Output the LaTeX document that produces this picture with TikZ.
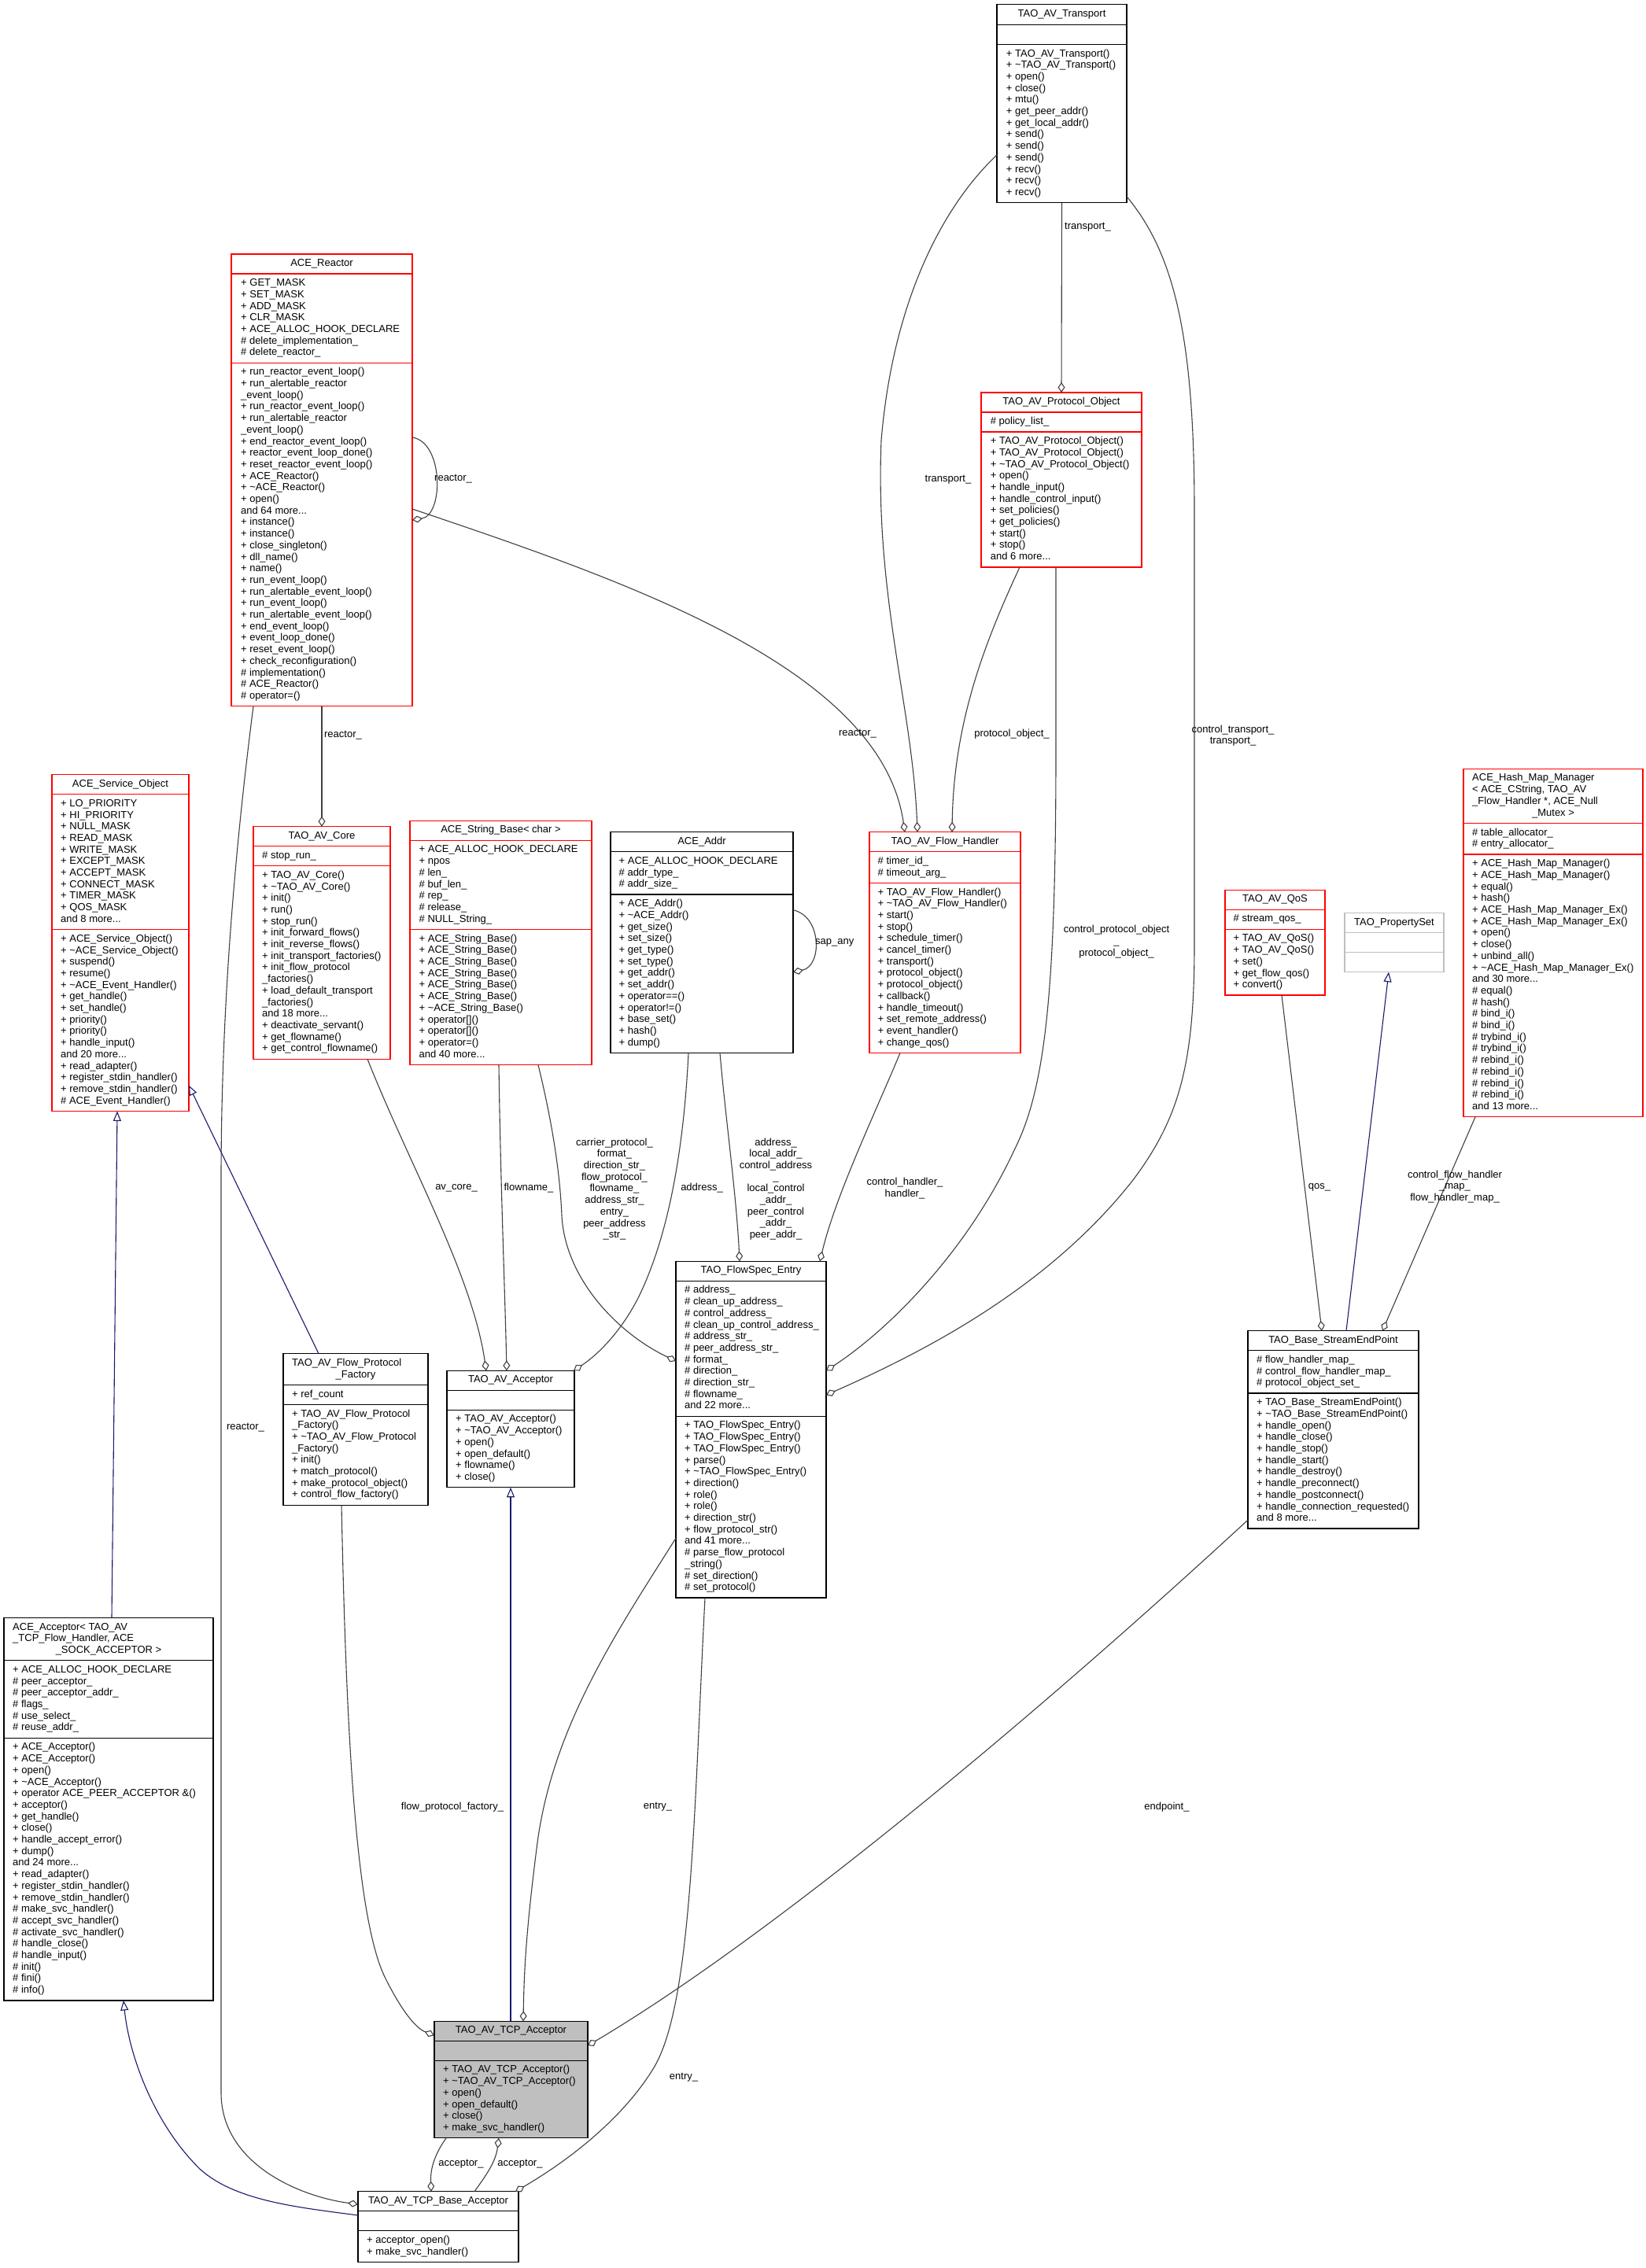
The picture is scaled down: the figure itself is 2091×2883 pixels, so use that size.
\documentclass[tikz,border=0pt]{standalone}
\usepackage{fontspec}
\setmainfont{Liberation Sans}
\usetikzlibrary{arrows.meta,calc}
\definecolor{edgegray}{HTML}{404040}
\definecolor{inhblue}{HTML}{191970}
\definecolor{boxred}{HTML}{FF0000}
\definecolor{boxgray}{HTML}{BFBFBF}
\newcommand\tld{\textasciitilde}
\newcommand\umlbox[9]{%
  \node[boxnode, draw=#8, fill=#9, minimum width=#4pt, minimum height=#5pt] (#1) at (#2,#3) {};
  \draw[boxsep, draw=#8] (#2,#6) -- (#2+#4,#6);
  \draw[boxsep, draw=#8] (#2,#7) -- (#2+#4,#7);
}
\newcommand\ttl[4]{\node[titletext] (#1) at (#2,#3) {\strut #4};}
\newcommand\mem[4]{\node[memtext] (#1) at (#2,#3) {\strut #4};}
\tikzset{
  boxnode/.style={rectangle, anchor=north west, inner sep=0pt, outer sep=0pt, line width=1.3pt},
  boxsep/.style={line width=1.3pt},
  titletext/.style={anchor=north, inner sep=0pt, align=center, font=\fontsize{13}{14.7}\selectfont},
  memtext/.style={anchor=north west, inner sep=0pt, align=left, font=\fontsize{13}{14.7}\selectfont},
  lbl/.style={inner sep=0pt, align=center, font=\fontsize{13}{14.7}\selectfont},
  usageedge/.style={draw=edgegray, line width=1.1pt, -{Diamond[open, length=13pt, width=9pt]}},
  inheritedge/.style={draw=inhblue, line width=1.1pt, -{Triangle[open, length=12.5pt, width=10pt]}},
}
\begin{document}
\begin{tikzpicture}[x=1pt, y=-1pt]
\fill[white] (0,0) rectangle (2091,2883);
\useasboundingbox (0,0) rectangle (2091,2883);

% ---------- boxes ----------
\umlbox{transport}{1267}{5.5}{165}{252.3}{31.2}{56.4}{black}{white}
\ttl{transport-t}{1349.5}{11}{TAO\_AV\_Transport}
\mem{transport-m}{1278.7}{61.55}{+ TAO\_AV\_Transport()\\+ \tld TAO\_AV\_Transport()\\+ open()\\+ close()\\+ mtu()\\+ get\_peer\_addr()\\+ get\_local\_addr()\\+ send()\\+ send()\\+ send()\\+ recv()\\+ recv()\\+ recv()}

\umlbox{protoobj}{1247}{499}{204}{222}{524}{549}{boxred}{white}
\ttl{protoobj-t}{1349}{504.15}{TAO\_AV\_Protocol\_Object}
\mem{protoobj-a}{1258.7}{529.15}{\# policy\_list\_}
\mem{protoobj-m}{1258.7}{554.15}{+ TAO\_AV\_Protocol\_Object()\\+ TAO\_AV\_Protocol\_Object()\\+ \tld TAO\_AV\_Protocol\_Object()\\+ open()\\+ handle\_input()\\+ handle\_control\_input()\\+ set\_policies()\\+ get\_policies()\\+ start()\\+ stop()\\and 6 more...}

\umlbox{reactor}{294}{323}{230}{574.8}{348}{461.2}{boxred}{white}
\ttl{reactor-t}{409}{328.15}{ACE\_Reactor}
\mem{reactor-a}{306}{353.15}{+ GET\_MASK\\+ SET\_MASK\\+ ADD\_MASK\\+ CLR\_MASK\\+ ACE\_ALLOC\_HOOK\_DECLARE\\\# delete\_implementation\_\\\# delete\_reactor\_}
\mem{reactor-m}{306}{466.35}{+ run\_reactor\_event\_loop()\\+ run\_alertable\_reactor\\\_event\_loop()\\+ run\_reactor\_event\_loop()\\+ run\_alertable\_reactor\\\_event\_loop()\\+ end\_reactor\_event\_loop()\\+ reactor\_event\_loop\_done()\\+ reset\_reactor\_event\_loop()\\+ ACE\_Reactor()\\+ \tld ACE\_Reactor()\\+ open()\\and 64 more...\\+ instance()\\+ instance()\\+ close\_singleton()\\+ dll\_name()\\+ name()\\+ run\_event\_loop()\\+ run\_alertable\_event\_loop()\\+ run\_event\_loop()\\+ run\_alertable\_event\_loop()\\+ end\_event\_loop()\\+ event\_loop\_done()\\+ reset\_event\_loop()\\+ check\_reconfiguration()\\\# implementation()\\\# ACE\_Reactor()\\\# operator=()}

\umlbox{serviceobj}{66}{984.7}{174}{427.8}{1009.7}{1181.7}{boxred}{white}
\ttl{serviceobj-t}{153}{989.85}{ACE\_Service\_Object}
\mem{serviceobj-a}{77}{1014.85}{+ LO\_PRIORITY\\+ HI\_PRIORITY\\+ NULL\_MASK\\+ READ\_MASK\\+ WRITE\_MASK\\+ EXCEPT\_MASK\\+ ACCEPT\_MASK\\+ CONNECT\_MASK\\+ TIMER\_MASK\\+ QOS\_MASK\\and 8 more...}
\mem{serviceobj-m}{77}{1186.85}{+ ACE\_Service\_Object()\\+ \tld ACE\_Service\_Object()\\+ suspend()\\+ resume()\\+ \tld ACE\_Event\_Handler()\\+ get\_handle()\\+ set\_handle()\\+ priority()\\+ priority()\\+ handle\_input()\\and 20 more...\\+ read\_adapter()\\+ register\_stdin\_handler()\\+ remove\_stdin\_handler()\\\# ACE\_Event\_Handler()}

\umlbox{core}{322}{1050.7}{174}{295.5}{1075.7}{1100.7}{boxred}{white}
\ttl{core-t}{409}{1055.85}{TAO\_AV\_Core}
\mem{core-a}{333}{1080.85}{\# stop\_run\_}
\mem{core-m}{333}{1105.85}{+ TAO\_AV\_Core()\\+ \tld TAO\_AV\_Core()\\+ init()\\+ run()\\+ stop\_run()\\+ init\_forward\_flows()\\+ init\_reverse\_flows()\\+ init\_transport\_factories()\\+ init\_flow\_protocol\\\_factories()\\+ load\_default\_transport\\\_factories()\\and 18 more...\\+ deactivate\_servant()\\+ get\_flowname()\\+ get\_control\_flowname()}

\umlbox{stringbase}{521}{1043.3}{231}{310.2}{1068.3}{1181.5}{boxred}{white}
\ttl{stringbase-t}{636.5}{1048.45}{ACE\_String\_Base< char >}
\mem{stringbase-a}{532.5}{1073.45}{+ ACE\_ALLOC\_HOOK\_DECLARE\\+ npos\\\# len\_\\\# buf\_len\_\\\# rep\_\\\# release\_\\\# NULL\_String\_}
\mem{stringbase-m}{532.5}{1186.65}{+ ACE\_String\_Base()\\+ ACE\_String\_Base()\\+ ACE\_String\_Base()\\+ ACE\_String\_Base()\\+ ACE\_String\_Base()\\+ ACE\_String\_Base()\\+ \tld ACE\_String\_Base()\\+ operator[]()\\+ operator[]()\\+ operator=()\\and 40 more...}

\umlbox{addr}{776}{1057.7}{232}{280.8}{1082.7}{1137.1}{black}{white}
\ttl{addr-t}{892}{1062.85}{ACE\_Addr}
\mem{addr-a}{786.5}{1087.85}{+ ACE\_ALLOC\_HOOK\_DECLARE\\\# addr\_type\_\\\# addr\_size\_}
\mem{addr-m}{786.5}{1142.25}{+ ACE\_Addr()\\+ \tld ACE\_Addr()\\+ get\_size()\\+ set\_size()\\+ get\_type()\\+ set\_type()\\+ get\_addr()\\+ set\_addr()\\+ operator==()\\+ operator!=()\\+ base\_set()\\+ hash()\\+ dump()}

\umlbox{flowhandler}{1105}{1057.7}{192}{280.8}{1082.7}{1122.4}{boxred}{white}
\ttl{flowhandler-t}{1201}{1062.85}{TAO\_AV\_Flow\_Handler}
\mem{flowhandler-a}{1115.5}{1087.85}{\# timer\_id\_\\\# timeout\_arg\_}
\mem{flowhandler-m}{1115.5}{1127.55}{+ TAO\_AV\_Flow\_Handler()\\+ \tld TAO\_AV\_Flow\_Handler()\\+ start()\\+ stop()\\+ schedule\_timer()\\+ cancel\_timer()\\+ transport()\\+ protocol\_object()\\+ protocol\_object()\\+ callback()\\+ handle\_timeout()\\+ set\_remote\_address()\\+ event\_handler()\\+ change\_qos()}

\umlbox{hashmap}{1860}{977.3}{228}{442.5}{1046.4}{1086.1}{boxred}{white}
\mem{hashmap-t1}{1871}{982.45}{ACE\_Hash\_Map\_Manager\\< ACE\_CString, TAO\_AV\\\_Flow\_Handler *, ACE\_Null}
\ttl{hashmap-t2}{1974}{1026.55}{\_Mutex >}
\mem{hashmap-a}{1871}{1051.55}{\# table\_allocator\_\\\# entry\_allocator\_}
\mem{hashmap-m}{1871}{1091.25}{+ ACE\_Hash\_Map\_Manager()\\+ ACE\_Hash\_Map\_Manager()\\+ equal()\\+ hash()\\+ ACE\_Hash\_Map\_Manager\_Ex()\\+ ACE\_Hash\_Map\_Manager\_Ex()\\+ open()\\+ close()\\+ unbind\_all()\\+ \tld ACE\_Hash\_Map\_Manager\_Ex()\\and 30 more...\\\# equal()\\\# hash()\\\# bind\_i()\\\# bind\_i()\\\# trybind\_i()\\\# trybind\_i()\\\# rebind\_i()\\\# rebind\_i()\\\# rebind\_i()\\\# rebind\_i()\\and 13 more...}

\umlbox{qos}{1557}{1131.3}{127}{133.8}{1156.3}{1181.3}{boxred}{white}
\ttl{qos-t}{1620.5}{1136.45}{TAO\_AV\_QoS}
\mem{qos-a}{1567.5}{1161.45}{\# stream\_qos\_}
\mem{qos-m}{1567.5}{1186.45}{+ TAO\_AV\_QoS()\\+ TAO\_AV\_QoS()\\+ set()\\+ get\_flow\_qos()\\+ convert()}

\umlbox{propset}{1709}{1160.7}{126}{75}{1185.7}{1210.7}{boxgray}{white}
\ttl{propset-t}{1772}{1165.85}{TAO\_PropertySet}

\umlbox{flowspec}{859}{1603.3}{191}{427.8}{1628.3}{1800.3}{black}{white}
\ttl{flowspec-t}{954.5}{1608.45}{TAO\_FlowSpec\_Entry}
\mem{flowspec-a}{870}{1633.45}{\# address\_\\\# clean\_up\_address\_\\\# control\_address\_\\\# clean\_up\_control\_address\_\\\# address\_str\_\\\# peer\_address\_str\_\\\# format\_\\\# direction\_\\\# direction\_str\_\\\# flowname\_\\and 22 more...}
\mem{flowspec-m}{870}{1805.45}{+ TAO\_FlowSpec\_Entry()\\+ TAO\_FlowSpec\_Entry()\\+ TAO\_FlowSpec\_Entry()\\+ parse()\\+ \tld TAO\_FlowSpec\_Entry()\\+ direction()\\+ role()\\+ role()\\+ direction\_str()\\+ flow\_protocol\_str()\\and 41 more...\\\# parse\_flow\_protocol\\\_string()\\\# set\_direction()\\\# set\_protocol()}

\umlbox{sep}{1586}{1691.7}{217}{251.4}{1716.7}{1771.1}{black}{white}
\ttl{sep-t}{1694.5}{1696.85}{TAO\_Base\_StreamEndPoint}
\mem{sep-a}{1597}{1721.85}{\# flow\_handler\_map\_\\\# control\_flow\_handler\_map\_\\\# protocol\_object\_set\_}
\mem{sep-m}{1597}{1776.25}{+ TAO\_Base\_StreamEndPoint()\\+ \tld TAO\_Base\_StreamEndPoint()\\+ handle\_open()\\+ handle\_close()\\+ handle\_stop()\\+ handle\_start()\\+ handle\_destroy()\\+ handle\_preconnect()\\+ handle\_postconnect()\\+ handle\_connection\_requested()\\and 8 more...}

\umlbox{factory}{360}{1720.7}{184}{192.6}{1760.4}{1785.4}{black}{white}
\mem{factory-t1}{371}{1725.85}{TAO\_AV\_Flow\_Protocol}
\ttl{factory-t2}{452}{1740.55}{\_Factory}
\mem{factory-a}{371}{1765.55}{+ ref\_count}
\mem{factory-m}{371}{1790.55}{+ TAO\_AV\_Flow\_Protocol\\\_Factory()\\+ \tld TAO\_AV\_Flow\_Protocol\\\_Factory()\\+ init()\\+ match\_protocol()\\+ make\_protocol\_object()\\+ control\_flow\_factory()}

\umlbox{avacceptor}{568}{1742.3}{162}{148.5}{1767.3}{1792.3}{black}{white}
\ttl{avacceptor-t}{649}{1747.45}{TAO\_AV\_Acceptor}
\mem{avacceptor-m}{579}{1797.45}{+ TAO\_AV\_Acceptor()\\+ \tld TAO\_AV\_Acceptor()\\+ open()\\+ open\_default()\\+ flowname()\\+ close()}

\umlbox{aceacceptor}{5}{2056.4}{266}{486.6}{2110.8}{2209.3}{black}{white}
\mem{aceacceptor-t1}{16}{2061.55}{ACE\_Acceptor< TAO\_AV\\\_TCP\_Flow\_Handler, ACE}
\ttl{aceacceptor-t2}{138}{2090.95}{\_SOCK\_ACCEPTOR >}
\mem{aceacceptor-a}{16}{2115.95}{+ ACE\_ALLOC\_HOOK\_DECLARE\\\# peer\_acceptor\_\\\# peer\_acceptor\_addr\_\\\# flags\_\\\# use\_select\_\\\# reuse\_addr\_}
\mem{aceacceptor-m}{16}{2214.45}{+ ACE\_Acceptor()\\+ ACE\_Acceptor()\\+ open()\\+ \tld ACE\_Acceptor()\\+ operator ACE\_PEER\_ACCEPTOR \&()\\+ acceptor()\\+ get\_handle()\\+ close()\\+ handle\_accept\_error()\\+ dump()\\and 24 more...\\+ read\_adapter()\\+ register\_stdin\_handler()\\+ remove\_stdin\_handler()\\\# make\_svc\_handler()\\\# accept\_svc\_handler()\\\# activate\_svc\_handler()\\\# handle\_close()\\\# handle\_input()\\\# init()\\\# fini()\\\# info()}

\umlbox{tcpacceptor}{552}{2569.3}{195}{148.5}{2594.3}{2619.3}{black}{boxgray}
\ttl{tcpacceptor-t}{649.5}{2574.45}{TAO\_AV\_TCP\_Acceptor}
\mem{tcpacceptor-m}{563}{2624.45}{+ TAO\_AV\_TCP\_Acceptor()\\+ \tld TAO\_AV\_TCP\_Acceptor()\\+ open()\\+ open\_default()\\+ close()\\+ make\_svc\_handler()}

\umlbox{baseacceptor}{455}{2785.7}{204}{89.7}{2810.7}{2835.7}{black}{white}
\ttl{baseacceptor-t}{557}{2790.85}{TAO\_AV\_TCP\_Base\_Acceptor}
\mem{baseacceptor-m}{466}{2840.85}{+ acceptor\_open()\\+ make\_svc\_handler()}

% ---------- connectors ----------
\draw[usageedge] (transport.south) -- (protoobj.north);
\draw[usageedge] ($(transport.north west)+(0,191.5)$) .. controls (1200,260) and (1135,380) .. (1120,560) .. controls (1112,760) and (1160,900) .. ($(flowhandler.north west)+(61,0)$);
\draw[usageedge] ($(transport.south east)+(0,-8)$) .. controls (1490,320) and (1518,420) .. (1518,650) -- (1518,1200) .. controls (1518,1350) and (1500,1420) .. (1440,1500) .. controls (1330,1640) and (1170,1720) .. ($(flowspec.north east)+(0,170)$);
\draw[usageedge] ($(protoobj.south west)+(49,0)$) .. controls (1250,820) and (1212,920) .. ($(flowhandler.north west)+(105,0)$);
\draw[usageedge] ($(protoobj.south west)+(95,0)$) -- (1342,950) .. controls (1342,1250) and (1330,1380) .. (1290,1460) .. controls (1230,1590) and (1130,1690) .. ($(flowspec.north east)+(0,139)$);
\draw[usageedge] ($(reactor.north east)+(0,233)$) .. controls (564,562) and (564,655) .. ($(reactor.north east)+(0,338)$);
\draw[usageedge] ($(reactor.north east)+(0,324)$) .. controls (800,740) and (1120,850) .. ($(flowhandler.north west)+(45,0)$);
\draw[usageedge] (reactor.south) -- (core.north);
\draw[usageedge] ($(reactor.south west)+(28,0)$) .. controls (296,1100) and (281,1300) .. (281,1500) -- (281,2660) .. controls (281,2750) and (380,2792) .. ($(baseacceptor.north west)+(0,16.3)$);
\draw[usageedge] ($(core.south west)+(145,0)$) .. controls (520,1480) and (600,1620) .. ($(avacceptor.north west)+(50,0)$);
\draw[usageedge] ($(stringbase.south west)+(113,0)$) .. controls (636,1500) and (642,1650) .. ($(avacceptor.north west)+(76,0)$);
\draw[usageedge] ($(stringbase.south west)+(163,0)$) .. controls (705,1440) and (712,1500) .. (714,1545) .. controls (718,1625) and (785,1695) .. ($(flowspec.north west)+(0,126.7)$);
\draw[usageedge] ($(addr.south west)+(99,0)$) .. controls (868,1480) and (845,1580) .. (812,1648) .. controls (790,1692) and (760,1722) .. ($(avacceptor.north east)+(-1,0)$);
\draw[usageedge] ($(addr.north east)+(0,99)$) .. controls (1045,1165) and (1045,1228) .. ($(addr.north east)+(0,178)$);
\draw[usageedge] ($(addr.south west)+(139,0)$) .. controls (922,1420) and (936,1520) .. ($(flowspec.north west)+(81,0)$);
\draw[usageedge] ($(flowhandler.south west)+(39,0)$) .. controls (1110,1420) and (1062,1520) .. ($(flowspec.north west)+(183,0)$);
\draw[usageedge] ($(qos.south west)+(72,0)$) -- ($(sep.north west)+(94,0)$);
\draw[inheritedge] ($(sep.north west)+(125,0)$) -- ($(propset.south west)+(56,0)$);
\draw[usageedge] ($(hashmap.south west)+(15,0)$) -- ($(sep.north west)+(171,0)$);
\draw[usageedge] ($(flowspec.north west)+(0,352)$) .. controls (780,2080) and (700,2200) .. (682,2350) .. controls (668,2460) and (666,2510) .. ($(tcpacceptor.north west)+(113,0)$);
\draw[usageedge] ($(flowspec.south west)+(37,0)$) .. controls (882,2300) and (880,2550) .. (830,2630) .. controls (790,2695) and (720,2748) .. ($(baseacceptor.north west)+(200,0)$);
\draw[usageedge] ($(factory.south west)+(74,0)$) .. controls (440,2200) and (452,2440) .. (490,2515) .. controls (510,2555) and (528,2578) .. ($(tcpacceptor.north west)+(0,18)$);
\draw[inheritedge] ($(tcpacceptor.north west)+(97,0)$) -- ($(avacceptor.south west)+(81,0)$);
\draw[usageedge] ($(sep.south west)+(0,-11)$) .. controls (1350,2150) and (1000,2450) .. ($(tcpacceptor.north east)+(0,31)$);
\draw[usageedge] ($(tcpacceptor.south west)+(15,0)$) .. controls (550,2742) and (547,2760) .. ($(baseacceptor.north west)+(93,0)$);
\draw[usageedge] ($(baseacceptor.north west)+(148,0)$) .. controls (618,2765) and (630,2748) .. ($(tcpacceptor.south west)+(82,0)$);
\draw[inheritedge] ($(aceacceptor.north west)+(137,0)$) -- ($(serviceobj.south west)+(83,0)$);
\draw[inheritedge] ($(factory.north west)+(45,0)$) -- ($(serviceobj.north east)+(0,395)$);
\draw[inheritedge] ($(baseacceptor.north west)+(0,30.3)$) .. controls (380,2806) and (300,2798) .. (255,2758) .. controls (200,2705) and (165,2620) .. ($(aceacceptor.south west)+(152,0)$);

% ---------- connector labels ----------
\node[lbl, anchor=west] (l-tr1) at (1353,289) {transport\_};
\node[lbl] (l-tr2) at (1205,610) {transport\_};
\node[lbl] (l-ctr) at (1567,935) {control\_transport\_\\transport\_};
\node[lbl, anchor=west] (l-rself) at (552,609) {reactor\_};
\node[lbl] (l-rfh) at (1090,933) {reactor\_};
\node[lbl] (l-po) at (1286,933) {protocol\_object\_};
\node[lbl] (l-rcore) at (436,935) {reactor\_};
\node[lbl] (l-cpo) at (1419,1197) {control\_protocol\_object\\\_\\protocol\_object\_};
\node[lbl, anchor=west] (l-sap) at (1036,1198) {sap\_any};
\node[lbl] (l-avcore) at (580,1510) {av\_core\_};
\node[lbl] (l-flowname) at (672,1510) {flowname\_};
\node[lbl] (l-carrier) at (781,1511.5) {carrier\_protocol\_\\format\_\\direction\_str\_\\flow\_protocol\_\\flowname\_\\address\_str\_\\entry\_\\peer\_address\\\_str\_};
\node[lbl] (l-address) at (892,1510) {address\_};
\node[lbl] (l-addrfs) at (986,1511.5) {address\_\\local\_addr\_\\control\_address\\\_\\local\_control\\\_addr\_\\peer\_control\\\_addr\_\\peer\_addr\_};
\node[lbl] (l-ctrlh) at (1150,1510.8) {control\_handler\_\\handler\_};
\node[lbl] (l-qos) at (1677,1509) {qos\_};
\node[lbl] (l-cfhm) at (1849,1508.6) {control\_flow\_handler\\\_map\_\\flow\_handler\_map\_};
\node[lbl] (l-rbase) at (312,1815) {reactor\_};
\node[lbl] (l-fpf) at (575,2297) {flow\_protocol\_factory\_};
\node[lbl] (l-entry1) at (836,2297) {entry\_};
\node[lbl] (l-endpoint) at (1483,2297) {endpoint\_};
\node[lbl] (l-entry2) at (869,2641) {entry\_};
\node[lbl] (l-acc1) at (586,2750.7) {acceptor\_};
\node[lbl] (l-acc2) at (661,2750.7) {acceptor\_};
\end{tikzpicture}
\end{document}
